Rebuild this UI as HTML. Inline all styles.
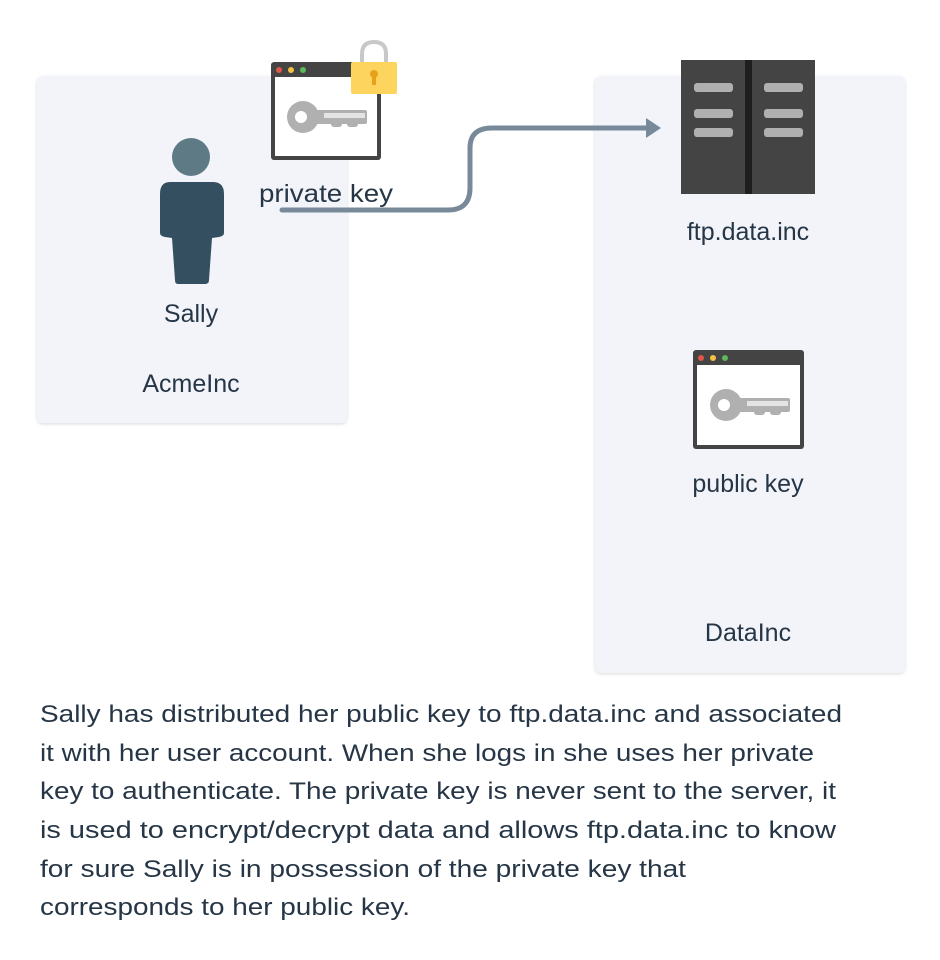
<!DOCTYPE html>
<html><head><meta charset="utf-8"><style>
html,body{margin:0;padding:0;background:#fff;}
svg{display:block;}
text{font-family:"Liberation Sans",sans-serif;fill:#263646;}
</style></head><body>
<svg width="940" height="960" viewBox="0 0 940 960" xmlns="http://www.w3.org/2000/svg">
<defs>
<filter id="sh" x="-5%" y="-5%" width="110%" height="110%"><feDropShadow dx="0" dy="1" stdDeviation="1.5" flood-color="#000" flood-opacity="0.15"/></filter>
</defs>
<rect x="37" y="76" width="310" height="347" rx="6" fill="#f2f4f9" filter="url(#sh)"/>
<rect x="595" y="76" width="310" height="597" rx="6" fill="#f2f4f9" filter="url(#sh)"/>

<!-- person -->
<circle cx="191" cy="157" r="19" fill="#5e7a85"/>
<path d="M170 182 H213 Q224 182 224 194 V233 Q224 236 219 237 L212 238 L209 280 Q209 284 205 284 H178 Q175 284 175 280 L172 238 L165 237 Q160 236 160 233 V194 Q160 182 170 182 Z" fill="#334f60"/>

<!-- private key window -->
<rect x="271" y="62" width="110" height="98" rx="3" fill="#444"/>
<rect x="275" y="77" width="102" height="79" fill="#fff"/>
<circle cx="279" cy="70" r="3" fill="#e0574a"/><circle cx="291" cy="70" r="3" fill="#f4c242"/><circle cx="303" cy="70" r="3" fill="#5cb85c"/>
<circle cx="303" cy="117" r="16" fill="#b0b0b0"/><circle cx="301" cy="117" r="6" fill="#fff"/>
<rect x="314" y="110" width="53" height="14" rx="2" fill="#b0b0b0"/>
<rect x="324" y="113" width="41" height="5" fill="#e4e4e4"/>
<rect x="331" y="121" width="11" height="6" rx="3" fill="#b0b0b0"/><rect x="347" y="121" width="11" height="6" rx="3" fill="#b0b0b0"/>
<!-- lock -->
<path d="M362 63 V54 Q362 42 374 42 Q386 42 386 54 V63" fill="none" stroke="#c8c8c8" stroke-width="4"/>
<rect x="351" y="62" width="46" height="32" rx="2" fill="#fcd45e"/>
<circle cx="374" cy="74" r="4" fill="#e8a21a"/><rect x="372" y="75" width="4" height="10" fill="#e8a21a"/>

<text x="326" y="202" font-size="25" text-anchor="middle" textLength="134" lengthAdjust="spacingAndGlyphs">private key</text>
<text x="191" y="322" font-size="25" text-anchor="middle">Sally</text>
<text x="191" y="392" font-size="25" text-anchor="middle">AcmeInc</text>

<!-- connector -->
<path d="M282 210 H448 Q470 210 470 188 V148 Q470 128 492 128 H650" fill="none" stroke="#788a99" stroke-width="5" stroke-linecap="round"/>
<path d="M646 118 L661 128 L646 138 Z" fill="#788a99"/>

<!-- server -->
<rect x="681" y="60" width="134" height="134" fill="#444"/>
<rect x="745" y="60" width="7" height="134" fill="#1e1e1e"/>
<g fill="#b0b0b0">
<rect x="694" y="83" width="39" height="9" rx="3"/><rect x="694" y="109" width="39" height="9" rx="3"/><rect x="694" y="128" width="39" height="9" rx="3"/>
<rect x="764" y="83" width="39" height="9" rx="3"/><rect x="764" y="109" width="39" height="9" rx="3"/><rect x="764" y="128" width="39" height="9" rx="3"/>
</g>
<text x="748" y="240" font-size="25" text-anchor="middle">ftp.data.inc</text>

<!-- public key window -->
<rect x="693" y="350" width="111" height="99" rx="3" fill="#444"/>
<rect x="697" y="365" width="103" height="80" fill="#fff"/>
<circle cx="701" cy="358" r="3" fill="#e0574a"/><circle cx="713" cy="358" r="3" fill="#f4c242"/><circle cx="725" cy="358" r="3" fill="#5cb85c"/>
<circle cx="726" cy="405" r="16" fill="#b0b0b0"/><circle cx="724" cy="405" r="6" fill="#fff"/>
<rect x="737" y="398" width="53" height="14" rx="2" fill="#b0b0b0"/>
<rect x="747" y="401" width="41" height="5" fill="#e4e4e4"/>
<rect x="754" y="409" width="11" height="6" rx="3" fill="#b0b0b0"/><rect x="770" y="409" width="11" height="6" rx="3" fill="#b0b0b0"/>
<text x="748" y="492" font-size="25" text-anchor="middle">public key</text>
<text x="748" y="641" font-size="25" text-anchor="middle">DataInc</text>

<g font-size="24">
<text x="40" y="722" textLength="802" lengthAdjust="spacingAndGlyphs">Sally has distributed her public key to ftp.data.inc and associated</text>
<text x="40" y="761" textLength="774" lengthAdjust="spacingAndGlyphs">it with her user account. When she logs in she uses her private</text>
<text x="40" y="799" textLength="796" lengthAdjust="spacingAndGlyphs">key to authenticate. The private key is never sent to the server, it</text>
<text x="40" y="838" textLength="796" lengthAdjust="spacingAndGlyphs">is used to encrypt/decrypt data and allows ftp.data.inc to know</text>
<text x="40" y="877" textLength="646" lengthAdjust="spacingAndGlyphs">for sure Sally is in possession of the private key that</text>
<text x="40" y="915" textLength="370" lengthAdjust="spacingAndGlyphs">corresponds to her public key.</text>
</g>
</svg>
</body></html>
